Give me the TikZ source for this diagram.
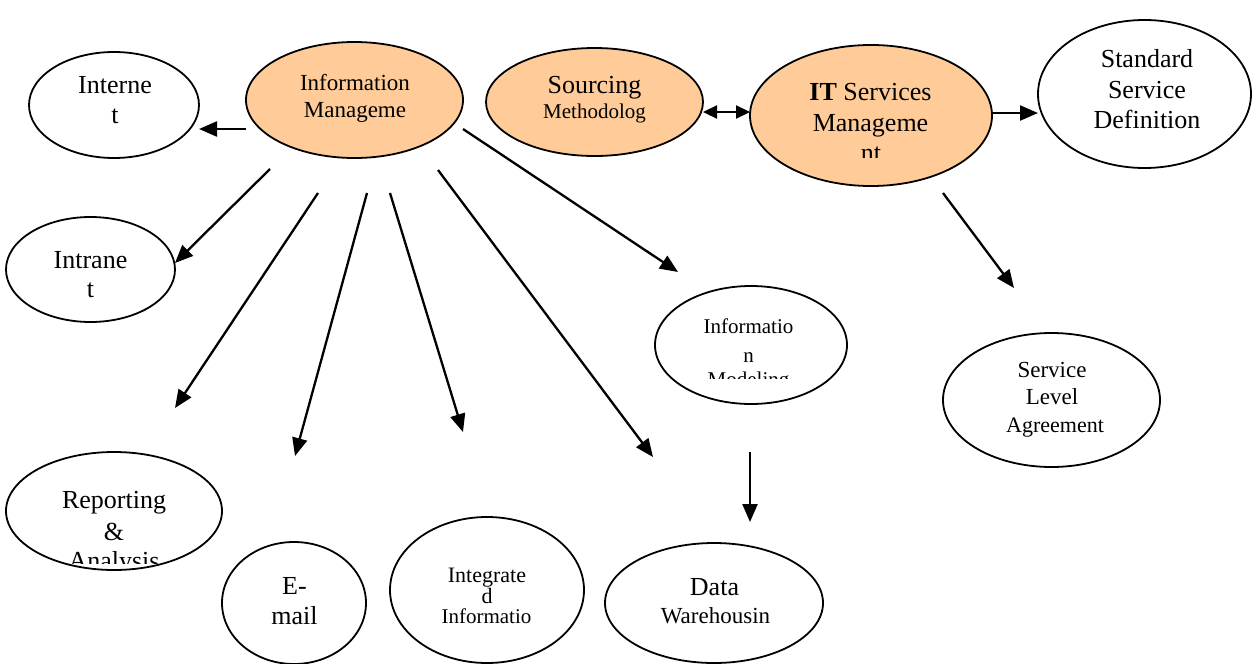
\documentclass[tikz,border=0pt]{standalone}
\usepackage{fontspec}
\setmainfont{Liberation Serif}
\usetikzlibrary{shapes.geometric,arrows.meta}
\definecolor{peach}{HTML}{FFCC99}
\tikzset{
  bubble/.style={ellipse, draw=black, line width=1.8pt, inner sep=0pt, outer sep=0pt},
  hub/.style={bubble, fill=peach},
  txt/.style={anchor=base, inner sep=0pt, outer sep=0pt},
  big/.style={font=\fontsize{26}{30}\selectfont},
  mid/.style={font=\fontsize{23}{27}\selectfont},
  midsm/.style={font=\fontsize{22}{26}\selectfont},
  small/.style={font=\fontsize{21}{25}\selectfont},
  link/.style={line width=2.3pt, -{Triangle[length=18pt,width=15pt]}},
  twoway/.style={line width=2.3pt, {Triangle[length=14pt,width=13pt]}-{Triangle[length=14pt,width=13pt]}},
}
\begin{document}
\begin{tikzpicture}[x=1pt,y=-1pt]
\useasboundingbox (0,0) rectangle (1256,664);

% ---- ellipses ----
\node[hub, minimum width=217pt, minimum height=116pt] (im) at (354.5,100) {};
\node[hub, minimum width=217pt, minimum height=108pt] (src) at (594.5,102) {};
\node[hub, minimum width=242pt, minimum height=141pt] (its) at (871,115.5) {};
\node[bubble, minimum width=213pt, minimum height=148pt] (ssd) at (1144.5,94) {};
\node[bubble, minimum width=170pt, minimum height=106pt] (inet) at (114,105) {};
\node[bubble, minimum width=169pt, minimum height=105pt] (intra) at (90.5,269.5) {};
\node[bubble, minimum width=216pt, minimum height=118pt] (rep) at (114,511) {};
\node[bubble, minimum width=144pt, minimum height=122pt] (mail) at (294,603) {};
\node[bubble, minimum width=194pt, minimum height=146pt] (integ) at (487,590) {};
\node[bubble, minimum width=218pt, minimum height=120pt] (dw) at (714,603) {};
\node[bubble, minimum width=192pt, minimum height=118pt] (model) at (751,345) {};
\node[bubble, minimum width=217pt, minimum height=134pt] (sla) at (1051.5,400) {};

% ---- labels ----
\node[txt,mid] (im-a) at (355,90) {Information};
\node[txt,mid] (im-b) at (355,117) {Manageme};

\node[txt,big] (src-a) at (594.5,93) {Sourcing};
\node[txt,small] (src-b) at (594.5,118) {Methodolog};

\node[txt,big] (its-a) at (870.5,100) {\textbf{IT} Services};
\node[txt,big] (its-b) at (870.5,131) {Manageme};
\begin{scope}
  \clip (800,140) rectangle (950,157);
  \node[txt,big] (its-c) at (871,161) {nt};
\end{scope}

\node[txt,big] (ssd-a) at (1147,67) {Standard};
\node[txt,big] (ssd-b) at (1147,98) {Service};
\node[txt,big] (ssd-c) at (1147,128) {Definition};

\node[txt,big] (inet-a) at (115,93) {Interne};
\node[txt,big] (inet-b) at (115,123) {t};

\node[txt,big] (intra-a) at (90.5,268) {Intrane};
\node[txt,big] (intra-b) at (90.5,297) {t};

\node[txt,big] (rep-a) at (114,508) {Reporting};
\node[txt,big] (rep-b) at (114,540) {\&};
\begin{scope}
  \clip (0,545) rectangle (230,563);
  \node[txt,big] (rep-c) at (114,569) {Analysis};
\end{scope}

\node[txt,big] (mail-a) at (294.5,594) {E-};
\node[txt,big] (mail-b) at (294.5,624) {mail};

\node[txt,midsm] (integ-a) at (487,582) {Integrate};
\node[txt,midsm] (integ-b) at (487,603) {d};
\node[txt,small] (integ-c) at (486.5,623) {Informatio};

\node[txt,big] (dw-a) at (714.5,595) {Data};
\node[txt,mid] (dw-b) at (715.5,623) {Warehousin};

\node[txt,small] (model-a) at (748.5,333) {Informatio};
\node[txt,small] (model-b) at (748.5,362) {n};
\begin{scope}
  \clip (650,368) rectangle (850,378);
  \node[txt,small] (model-c) at (748.5,386) {Modeling};
\end{scope}

\node[txt,mid] (sla-a) at (1052,377) {Service};
\node[txt,mid] (sla-b) at (1052,404) {Level};
\node[txt,midsm] (sla-c) at (1055,432) {Agreement};

% ---- connector end points ----
\coordinate (p-inet-s) at (246,129);   \coordinate (p-inet-e) at (199,129);
\coordinate (p-intra-s) at (270,169);  \coordinate (p-intra-e) at (175,263);
\coordinate (p-rep-s) at (318,193);    \coordinate (p-rep-e) at (175,408);
\coordinate (p-mail-s) at (367,193);   \coordinate (p-mail-e) at (295,456);
\coordinate (p-integ-s) at (390,193);  \coordinate (p-integ-e) at (463,432);
\coordinate (p-dw-s) at (438,170);     \coordinate (p-dw-e) at (653,457);
\coordinate (p-model-s) at (463,129);  \coordinate (p-model-e) at (678,272);
\coordinate (p-mdw-s) at (750,452);    \coordinate (p-mdw-e) at (750,522);
\coordinate (p-src-s) at (703,112);    \coordinate (p-src-e) at (750,112);
\coordinate (p-ssd-s) at (992,113);    \coordinate (p-ssd-e) at (1038,113);
\coordinate (p-sla-s) at (943,193);    \coordinate (p-sla-e) at (1014,288);

% ---- connectors ----
\draw[link] (p-inet-s) -- (p-inet-e);
\draw[link] (p-intra-s) -- (p-intra-e);
\draw[link] (p-rep-s) -- (p-rep-e);
\draw[link] (p-mail-s) -- (p-mail-e);
\draw[link] (p-integ-s) -- (p-integ-e);
\draw[link] (p-dw-s) -- (p-dw-e);
\draw[link] (p-model-s) -- (p-model-e);
\draw[link] (p-mdw-s) -- (p-mdw-e);
\draw[twoway] (p-src-s) -- (p-src-e);
\draw[link] (p-ssd-s) -- (p-ssd-e);
\draw[link] (p-sla-s) -- (p-sla-e);
\end{tikzpicture}
\end{document}
